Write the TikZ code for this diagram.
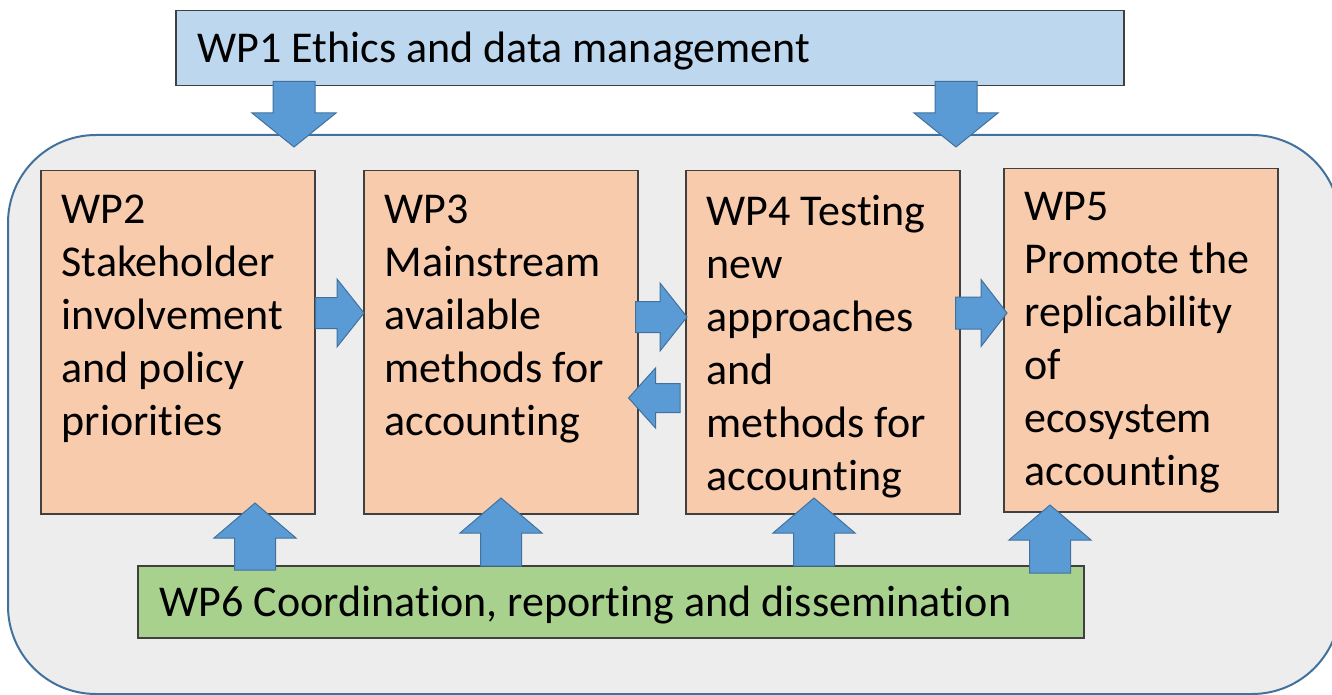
\documentclass[tikz,border=0pt]{standalone}
\usepackage{fontspec}
\setmainfont{Carlito}[RawFeature={-liga;-clig;-calt;-dlig}]
\usetikzlibrary{calc}

\definecolor{wpblue}{HTML}{BDD7EE}
\definecolor{wporange}{HTML}{F8CBAD}
\definecolor{wpgreen}{HTML}{A9D18E}
\definecolor{wpgrey}{HTML}{EDEDED}
\definecolor{arrowfill}{HTML}{5B9BD5}
\definecolor{arrowline}{HTML}{41719C}
\definecolor{boxline}{HTML}{404040}

\newcommand{\wpfont}{\fontsize{44}{53}\selectfont}
\newcommand{\wptext}[1]{\parbox[t][295pt][t]{232pt}{\raggedright #1}}

\tikzset{
  frame/.style={draw=arrowline, line width=2pt, fill=wpgrey, rounded corners=88pt},
  wpbox/.style={draw=boxline, line width=1.5pt, fill=wporange, anchor=north west,
    inner xsep=21pt, inner ysep=24pt, font=\wpfont},
  barbox/.style={draw=boxline, line width=1.5pt, anchor=north west, align=flush left,
    inner xsep=22pt, inner ysep=0pt, text height=33pt, text depth=4.5pt, font=\wpfont},
  blockarrow/.style={fill=arrowfill, draw=arrowline, line width=1pt},
  fatarrow/.style n args={3}{to path={
    ($(\tikztotarget)!#3!(\tikztostart)$) coordinate (fa-base)
    ($(\tikztostart)!#1!90:(\tikztotarget)$)
    -- ($(fa-base)!#1!-90:(\tikztostart)$)
    -- ($(fa-base)!#2!-90:(\tikztostart)$)
    -- (\tikztotarget)
    -- ($(fa-base)!#2!90:(\tikztostart)$)
    -- ($(fa-base)!#1!90:(\tikztostart)$)
    -- ($(\tikztostart)!#1!-90:(\tikztotarget)$)
    -- cycle}}
}

\begin{document}
\begin{tikzpicture}[x=1pt, y=-1pt]
\useasboundingbox (0,0) rectangle (1332,695);

\draw[frame] (8,135) rectangle (1340,694);

\node[barbox, fill=wpblue, text width=904pt, minimum height=75pt] (wp1) at (175,10) {WP1 Ethics and data management};
\node[wpbox] (wp2) at (40,170) {\wptext{WP2\\Stakeholder\\involvement\\and policy\\priorities}};
\node[wpbox] (wp3) at (363,170) {\wptext{WP3\\Mainstream\\available\\methods for\\accounting}};
\node[wpbox] (wp4) at (685,170) {\wptext{WP4 Testing\\new\\approaches\\and\\methods for\\accounting}};
\node[wpbox] (wp5) at (1003,168) {\wptext{WP5\\Promote the\\replicability\\of\\ecosystem\\accounting}};
\node[barbox, fill=wpgreen, text width=902pt, minimum height=72pt] (wp6) at (137,565) {WP6 Coordination, reporting and dissemination};

\coordinate (d1) at (294,147);
\coordinate (d2) at (956,147);
\coordinate (u1) at (255,503);
\coordinate (u2) at (501,498);
\coordinate (u3) at (814,498);
\coordinate (u4) at (1050,505);
\coordinate (r1) at (0,313);
\coordinate (r2) at (0,317);
\coordinate (r3) at (0,398);

\path[blockarrow, fatarrow={21pt}{42pt}{34pt}] ([yshift=5pt]wp1.south -| d1) to (d1);
\path[blockarrow, fatarrow={21pt}{42pt}{34pt}] ([yshift=5pt]wp1.south -| d2) to (d2);

\path[blockarrow, fatarrow={15.5pt}{34pt}{27pt}] (wp2.east |- r1) to ([xshift=1pt]wp3.west |- r1);
\path[blockarrow, fatarrow={15.5pt}{34pt}{27pt}] ([xshift=-3pt]wp3.east |- r2) to ([xshift=2pt]wp4.west |- r2);
\path[blockarrow, fatarrow={14.5pt}{30pt}{27pt}] ([xshift=-5pt]wp4.west |- r3) to ([xshift=-10pt]wp3.east |- r3);
\path[blockarrow, fatarrow={16pt}{33.5pt}{26pt}] ([xshift=-5pt]wp4.east |- r1) to ([xshift=4pt]wp5.west |- r1);

\path[blockarrow, fatarrow={20.5pt}{41pt}{35pt}] ([yshift=-5pt]wp6.north -| u1) to (u1);
\path[blockarrow, fatarrow={20.5pt}{41pt}{35pt}] ([yshift=-1pt]wp6.north -| u2) to (u2);
\path[blockarrow, fatarrow={20.5pt}{41pt}{35pt}] ([yshift=-1pt]wp6.north -| u3) to (u3);
\path[blockarrow, fatarrow={20.5pt}{41pt}{35pt}] ([yshift=-8pt]wp6.north -| u4) to (u4);
\end{tikzpicture}
\end{document}
